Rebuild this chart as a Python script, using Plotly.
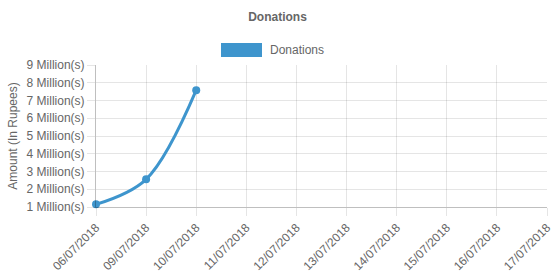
import plotly.graph_objects as go

dates = ["06/07/2018", "09/07/2018", "10/07/2018", "11/07/2018", "12/07/2018",
         "13/07/2018", "14/07/2018", "15/07/2018", "16/07/2018", "17/07/2018"]
donation_dates = ["06/07/2018", "09/07/2018", "10/07/2018"]
donations = [1150000, 2560000, 7580000]
y_tick_vals = [1e6, 2e6, 3e6, 4e6, 5e6, 6e6, 7e6, 8e6, 9e6]
y_tick_text = [f"{int(v/1e6)} Million(s)" for v in y_tick_vals]

color = "#3e95cd"
grid = "rgba(0,0,0,0.1)"
font = "Liberation Sans, Arial, sans-serif"

fig = go.Figure()
fig.add_trace(go.Scatter(
    x=donation_dates, y=donations, mode="lines+markers",
    line=dict(color=color, width=3, shape="spline", smoothing=1.0),
    marker=dict(color=color, size=8),
    cliponaxis=False,
    showlegend=False, hoverinfo="x+y",
))

fig.update_layout(
    width=555, height=277,
    margin=dict(l=96, r=8, t=65, b=70, autoexpand=False),
    paper_bgcolor="white", plot_bgcolor="white",
    font=dict(family=font, size=12, color="#666"),
    title=dict(text="<b>Donations</b>", x=0.5, xref="container", xanchor="center",
               y=1 - 17 / 277, yref="container", yanchor="middle",
               font=dict(size=12, color="#666", family=font)),
)

fig.update_xaxes(
    type="category", categoryorder="array", categoryarray=dates,
    tickvals=dates, range=[0, len(dates) - 1], automargin=False,
    showgrid=True, gridcolor=grid, gridwidth=1,
    ticks="outside", ticklen=8, tickcolor=grid,
    tickangle=-45, tickfont=dict(size=12, color="#666"),
    showline=True, linecolor="rgba(0,0,0,0.25)", linewidth=1,
    zeroline=False,
)
fig.update_yaxes(
    range=[1e6, 9e6], tickvals=y_tick_vals, ticktext=y_tick_text, automargin=False,
    showgrid=True, gridcolor=grid, gridwidth=1,
    ticks="outside", ticklen=8, tickcolor=grid,
    tickfont=dict(size=12, color="#666"),
    showline=True, linecolor="rgba(0,0,0,0.25)", linewidth=1,
    zeroline=False,
    title=dict(text="Amount (In Rupees)", font=dict(size=12, color="#666"), standoff=6),
)

# Legend drawn as a box + label
fig.add_shape(type="rect", xref="paper", yref="paper",
              x0=(221 - 96) / 451, x1=(262 - 96) / 451,
              y0=(207 - 43) / 142, y1=(207 - 57) / 142,
              fillcolor=color, line=dict(width=0))
fig.add_annotation(xref="paper", yref="paper", x=(268 - 96) / 451, y=(207 - 50) / 142,
                   text="Donations", showarrow=False, xanchor="left", yanchor="middle",
                   font=dict(size=12, color="#666"))

fig.write_html("out.html")
